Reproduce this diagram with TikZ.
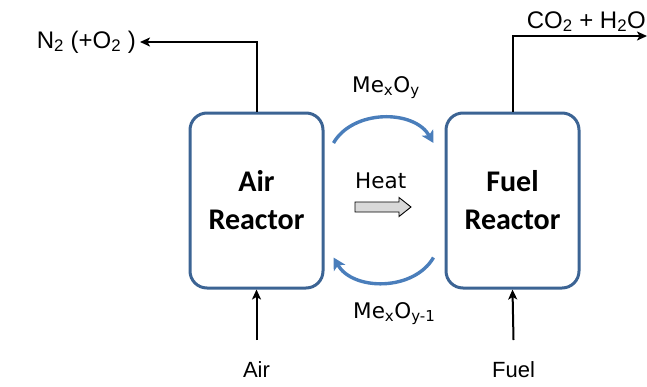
\documentclass[tikz,border=0pt]{standalone}
\usepackage{fontspec}
\setmainfont{Liberation Sans}
\newfontfamily\reactorfont{Carlito}
\newfontfamily\labelfont{DejaVu Sans}
\usepackage{xcolor}
\usetikzlibrary{positioning, arrows.meta, calc}
\definecolor{boxblue}{HTML}{3C6494}
\definecolor{loopblue}{HTML}{4A7EBB}

\begin{document}
\begin{tikzpicture}[
      x=1pt, y=-1pt,
      reactor/.style={
        draw=boxblue,
        line width=3pt,
        rounded corners=17pt,
        minimum width=133pt,
        minimum height=175pt,
        align=center,
        font=\reactorfont\bfseries\fontsize{30}{38}\selectfont
      },
      stream/.style={
        -{Stealth[length=10pt,width=9pt,inset=2.5pt]},
        line width=2pt
      },
      loop/.style={
        -{Stealth[length=12pt,width=13pt,inset=3pt]},
        draw=loopblue,
        line width=3.4pt
      },
      txt/.style={
        font=\fontsize{22}{26}\selectfont,
        inner sep=4pt
      },
      oxide/.style={
        font=\labelfont\fontsize{21.5}{25}\selectfont,
        inner sep=0pt
      }
    ]
    \useasboundingbox (0,0) rectangle (647,386);

    \node[reactor] (air) at (256.5,200.5) {Air\\Reactor};
    \node[reactor] (fuel) at (512.5,200.5) {Fuel\\Reactor};

    % oxygen carrier loop
    \draw[loop] ($(air.east)+(9,-57.5)$) to[bend left=60] ($(fuel.west)+(-11,-57.5)$);
    \draw[loop] ($(fuel.west)+(-11,57)$) to[bend left=60] ($(air.east)+(9,57)$);
    \node[oxide, anchor=base west] (oxtop) at (352,92) {Me\textsubscript{x}O\textsubscript{y}};
    \node[oxide, anchor=base west] (oxbot) at (353,318) {Me\textsubscript{x}O\textsubscript{y-1}};

    \node[oxide, anchor=base west] (heat) at (355,188) {Heat};
    \draw[fill=gray!30, line width=0.9pt] (355,202) -- (399,202) -- (399,197.5) -- (411,207)
      -- (399,216.5) -- (399,212) -- (355,212) -- cycle;

    % streams in and out
    \node[txt, font=\fontsize{24}{28}\selectfont, anchor=east] (nitro) at (140,42) {N\textsubscript{2} (+O\textsubscript{2} )};
    \draw[stream] (air.north) |- (nitro.east);

    \coordinate (exhaust) at (647,36);
    \node[txt, font=\fontsize{24}{28}\selectfont, anchor=base east] (co2) at (650,28) {CO\textsubscript{2} + H\textsubscript{2}O};
    \draw[stream] (fuel.north) |- (exhaust);

    \node[txt] (airlbl) at (256.5,370) {Air};
    \coordinate (airfeed) at (256.5,340);
    \draw[stream] (airfeed) -- (air.south);

    \node[txt] (fuellbl) at (513.5,370) {Fuel};
    \coordinate (fuelfeed) at (513.5,340);
    \draw[stream] (fuelfeed) -- (fuel.south);

    \end{tikzpicture}
\end{document}
